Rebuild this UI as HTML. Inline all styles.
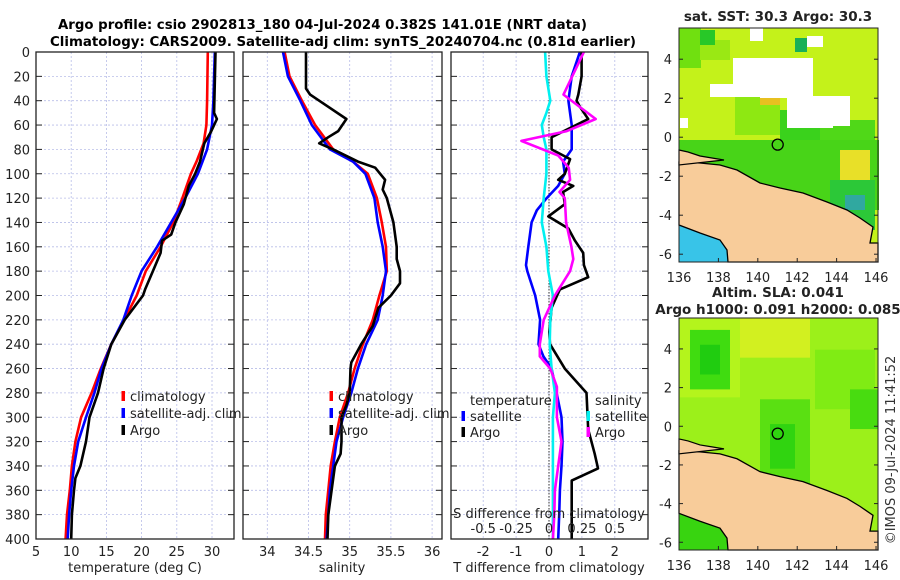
<!DOCTYPE html>
<html><head><meta charset="utf-8">
<style>
html,body{margin:0;padding:0;background:#fff;}
svg{display:block;font-family:"DejaVu Sans","Liberation Sans",sans-serif;}
</style></head>
<body>
<svg id="fig" width="900" height="580" viewBox="0 0 900 580" xmlns="http://www.w3.org/2000/svg">
  <rect width="900" height="580" fill="#fff"/>
  <text x="58" y="29" font-size="13.5" font-weight="bold" textLength="529" lengthAdjust="spacingAndGlyphs">Argo profile: csio 2902813_180 04-Jul-2024 0.382S 141.01E (NRT data)</text>
  <text x="50" y="46" font-size="13.5" font-weight="bold" textLength="586" lengthAdjust="spacingAndGlyphs">Climatology: CARS2009. Satellite-adj clim: synTS_20240704.nc (0.81d earlier)</text>
  <g id="panels"></g>
  <g id="maps"></g>
  <text transform="translate(895,450) rotate(-90)" text-anchor="middle" font-size="13" fill="#333">©IMOS 09-Jul-2024 11:41:52</text>
</svg>
<script>
// ---------- data ----------
const depthTicks = [0,20,40,60,80,100,120,140,160,180,200,220,240,260,280,300,320,340,360,380,400];
const tempTicks = [5,10,15,20,25,30];
const salTicks = [34,34.5,35,35.5,36];
const tdiffTicks = [-2,-1,0,1,2];
const sdiffTicks = [-0.5,-0.25,0,0.25,0.5];
const sdiffTickLabels = ["-0.5","-0.25","0","0.25","0.5"];

const climTDepth = [0,40,60,75,90,100,120,140,160,180,200,220,240,260,280,300,320,340,360,380,400];
const climT = [29.4,29.3,29.2,28.8,27.8,27.0,25.8,24.5,22.7,20.6,19.3,17.5,15.7,14.2,12.9,11.4,10.6,10.1,9.8,9.4,9.2];
const satTDepth = [0,40,60,80,100,120,140,160,180,200,220,240,260,280,300,320,340,360,380,400];
const satT = [30.4,30.2,30.0,29.3,28.0,26.2,24.2,22.2,20.0,18.6,17.4,15.7,14.3,13.3,12.1,11.0,10.4,10.0,9.7,9.5];
const argoTDepth = [0,50,55,65,75,90,100,110,125,140,150,155,165,180,195,200,220,240,260,280,300,320,340,350,360,380,400];
const argoT = [30.5,30.3,30.7,29.9,28.9,28.3,27.6,26.7,26.0,24.8,24.2,22.9,22.7,21.6,20.5,20.2,17.6,15.7,14.6,13.8,12.6,12.1,11.3,10.6,10.4,10.1,10.0];

const climSDepth = [0,20,40,60,80,90,100,120,140,160,180,200,220,240,260,280,300,320,340,360,380,400];
const climS = [34.21,34.27,34.42,34.58,34.80,35.04,35.22,35.33,35.39,35.44,35.45,35.36,35.28,35.16,35.06,34.98,34.88,34.82,34.77,34.74,34.71,34.70];
const satSDepth = [0,20,40,60,80,90,100,120,140,160,180,200,220,240,260,280,300,320,340,360,380,400];
const satS = [34.19,34.25,34.40,34.54,34.76,35.04,35.19,35.30,35.34,35.40,35.44,35.40,35.34,35.20,35.10,35.02,34.92,34.84,34.80,34.76,34.74,34.72];
const argoSDepth = [0,30,35,45,55,65,70,75,80,90,95,105,113,120,140,160,170,180,190,200,210,225,240,255,260,280,290,300,320,330,340,360,380,400];
const argoS = [34.47,34.47,34.52,34.74,34.96,34.86,34.74,34.63,34.80,35.10,35.31,35.43,35.40,35.45,35.53,35.57,35.57,35.61,35.61,35.50,35.35,35.28,35.14,35.02,35.01,35.00,34.96,34.90,34.90,34.89,34.82,34.78,34.74,34.73];

const satTdDepth = [0,20,40,60,80,90,100,110,120,130,140,160,175,180,200,220,240,250,260,280,300,320,340,360,380,400];
const satTd = [0.94,0.69,0.59,0.69,0.69,0.43,0.48,0.28,-0.07,-0.37,-0.53,-0.63,-0.70,-0.66,-0.42,-0.27,-0.32,-0.17,0.08,0.23,0.38,0.41,0.38,0.33,0.31,0.28];
const argoTdDepth = [0,20,35,40,45,55,70,80,88,100,105,110,115,125,135,145,155,165,175,185,195,210,230,240,260,280,310,330,342,352,380,400];
const argoTd = [0.99,0.99,0.89,0.84,0.94,1.19,0.08,0.08,0.64,0.48,0.28,0.74,0.43,0.48,-0.02,0.59,0.79,1.04,1.06,1.19,0.33,0.08,0.01,0.03,0.48,1.14,1.19,1.39,1.49,0.69,0.69,0.69];
const satSdDepth = [0,20,40,50,60,70,80,100,120,140,160,180,200,220,240,260,280,300,320,340,360,380,400];
const satSd = [-0.03,-0.02,0.01,-0.02,-0.055,-0.04,-0.02,-0.02,-0.04,-0.055,-0.02,-0.005,0.03,0.01,0.005,0.02,0.045,0.03,0.03,0.03,0.03,0.03,0.03];
const argoSdDepth = [0,35,55,65,73,85,95,105,115,120,140,160,170,180,200,220,240,250,260,275,300,320,340,360,380,400];
const argoSd = [0.265,0.11,0.355,0.135,-0.21,0.07,0.15,0.16,0.08,0.12,0.13,0.17,0.185,0.16,0.045,-0.04,-0.07,-0.07,0.01,0.06,0.06,0.095,0.07,0.045,0.04,0.03];

const mapLonTicks = [136,138,140,142,144,146];
const mapLatTicks = [4,2,0,-2,-4,-6];
const argoLon = 141.01, argoLat = -0.382;

// ---------- helpers ----------
const NS = "http://www.w3.org/2000/svg";
function mk(tag, attrs, parent){ const e=document.createElementNS(NS,tag); for(const k in attrs) e.setAttribute(k,attrs[k]); parent.appendChild(e); return e; }
const TOP=52, BOT=539;
function yD(d){ return TOP + d*(BOT-TOP)/400; }
const P1={x0:36,x1:234,f:v=>36+(v-5)*7.04};
const P2={x0:243,x1:442,f:v=>267.3+(v-34)*82.4};
const P3={x0:451,x1:648,f:v=>549+v*32.9};
function sdX(v){ return 549+v*4*32.9; }
const panels=document.getElementById('panels');

function frame(P, ticks, name){
  const g=mk('g',{},panels);
  
  
  ticks.forEach(t=>{ const x=P.f(t); mk('line',{x1:x,x2:x,y1:TOP,y2:BOT,stroke:'#b8bde8','stroke-width':0.8,'stroke-dasharray':'2,2'},g); });
  depthTicks.forEach(d=>{ const y=yD(d); mk('line',{x1:P.x0,x2:P.x1,y1:y,y2:y,stroke:'#b8bde8','stroke-width':0.8,'stroke-dasharray':'2,2'},g);
    mk('line',{x1:P.x0,x2:P.x0+6,y1:y,y2:y,stroke:'#222','stroke-width':1},g);
    mk('line',{x1:P.x1-6,x2:P.x1,y1:y,y2:y,stroke:'#222','stroke-width':1},g); });
  return g;
}
function series(fx, xs, ds, color, name, w){
  const pts=xs.map((v,i)=>fx(v).toFixed(1)+','+yD(ds[i]).toFixed(1)).join(' ');
  const p=mk('polyline',{points:pts,fill:'none',stroke:color,'stroke-width':w||2.6,'stroke-linejoin':'round'},panels);
  
  
}
function box(P,name){ const r=mk('rect',{x:P.x0,y:TOP,width:P.x1-P.x0,height:BOT-TOP,fill:'none',stroke:'#222','stroke-width':1.3},panels);
  
   }
function txt(x,y,s,attrs,name,parent){ const t=mk('text',Object.assign({x:x,y:y,'font-size':13,fill:'#222'},attrs||{}),parent||panels); t.textContent=s;
  
   return t; }
function legMark(x,y,color,name){ const r=mk('rect',{x:x-1.5,y:y-10,width:3.5,height:10,fill:color},panels);
  
   }

// ---------- panel 1: temperature ----------
frame(P1,tempTicks,'temperature-grid');
depthTicks.forEach(d=>txt(30,yD(d)+5,String(d),{'text-anchor':'end'},'depth-tick-label'));
tempTicks.forEach(t=>txt(P1.f(t),556,String(t),{'text-anchor':'middle'},'temp-tick-label'));
txt(135,572,'temperature (deg C)',{'text-anchor':'middle'},'temperature-axis-title');
series(P1.f,climT,climTDepth,'#ff0000','temp-climatology-line');
series(P1.f,satT,satTDepth,'#0000ff','temp-satellite-line');
series(P1.f,argoT,argoTDepth,'#000000','temp-argo-line');
box(P1,'temperature-axes');
legMark(123,401,'#ff0000','legend-climatology-mark'); txt(130,401,'climatology',{},'legend-climatology');
legMark(123,418,'#0000ff','legend-satellite-mark'); txt(130,418,'satellite-adj. clim',{},'legend-satellite');
legMark(123,435,'#000','legend-argo-mark'); txt(130,435,'Argo',{},'legend-argo');

// ---------- panel 2: salinity ----------
frame(P2,salTicks,'salinity-grid');
salTicks.forEach(t=>txt(P2.f(t),556,String(t),{'text-anchor':'middle'},'sal-tick-label'));
txt(342,572,'salinity',{'text-anchor':'middle'},'salinity-axis-title');
series(P2.f,climS,climSDepth,'#ff0000','sal-climatology-line');
series(P2.f,satS,satSDepth,'#0000ff','sal-satellite-line');
series(P2.f,argoS,argoSDepth,'#000000','sal-argo-line');
box(P2,'salinity-axes');
legMark(331,401,'#ff0000','legend2-climatology-mark'); txt(338,401,'climatology',{},'legend2-climatology');
legMark(331,418,'#0000ff','legend2-satellite-mark'); txt(338,418,'satellite-adj. clim',{},'legend2-satellite');
legMark(331,435,'#000','legend2-argo-mark'); txt(338,435,'Argo',{},'legend2-argo');

// ---------- panel 3: differences ----------
frame(P3,tdiffTicks,'difference-grid');
mk('line',{x1:549,x2:549,y1:TOP,y2:BOT,stroke:'#333','stroke-width':1,'stroke-dasharray':'1.5,1.5'},panels);
tdiffTicks.forEach(t=>txt(P3.f(t),556,String(t),{'text-anchor':'middle'},'tdiff-tick-label'));
txt(549,572,'T difference from climatology',{'text-anchor':'middle'},'tdiff-axis-title');
series(P3.f,satTd,satTdDepth,'#0000ff','tdiff-satellite-line');
series(P3.f,argoTd,argoTdDepth,'#000000','tdiff-argo-line');
series(sdX,satSd,satSdDepth,'#00f0f0','sdiff-satellite-line');
series(sdX,argoSd,argoSdDepth,'#ff00ff','sdiff-argo-line');
box(P3,'difference-axes');
txt(549,518,'S difference from climatology',{'text-anchor':'middle'},'sdiff-axis-title');
sdiffTicks.forEach((t,i)=>txt(sdX(t),533,sdiffTickLabels[i],{'text-anchor':'middle'},'sdiff-tick-label'));
txt(470,405,'temperature',{},'legend3-temperature-header');
txt(595,405,'salinity',{},'legend3-salinity-header');
legMark(463,421,'#0000ff','legend3-tsat-mark'); txt(470,421,'satellite',{},'legend3-tsat');
legMark(463,437,'#000','legend3-targo-mark'); txt(470,437,'Argo',{},'legend3-targo');
legMark(588,421,'#00f0f0','legend3-ssat-mark'); txt(595,421,'satellite',{},'legend3-ssat');
legMark(588,437,'#ff00ff','legend3-sargo-mark'); txt(595,437,'Argo',{},'legend3-sargo');

// ---------- maps ----------
const maps=document.getElementById('maps');
function drawMap(y0,y1,kind,titles){
  const x0=679,x1=878;
  const lonX=l=>x0+(l-136)*(x1-x0)/10.1;
  const latY=l=>y0+(5.6-l)*(y1-y0)/12;
  const g=mk('g',{},maps);
  
  
  const sy=v=>y0+(v-28)*(y1-y0)/234;
  if(kind==='sst'){
    mk('rect',{x:x0,y:y0,width:x1-x0,height:y1-y0,fill:'#c4f21a'},g);
    [[679,28,22,40,'#70e010'],[700,40,30,20,'#9ae814'],[735,95,45,40,'#8ee812'],[780,110,40,50,'#3ad21c'],[820,120,55,60,'#50d818'],[679,140,200,70,'#48d418'],[830,180,45,50,'#2cc838'],[845,195,20,15,'#30a8a0'],[700,30,15,15,'#28c828'],[795,38,12,14,'#18b058'],[840,150,30,30,'#e8e028'],[760,95,20,10,'#e8c020']].forEach(r=>mk('rect',{x:r[0],y:sy(r[1]),width:r[2],height:(r[3])*(y1-y0)/234,fill:r[4]},g));
    [[750,26,13,15],[710,84,50,13],[733,58,47,26],[760,58,53,40],[787,97,46,31],[810,96,40,30],[807,36,16,11],[680,118,8,10]].forEach(r=>mk('rect',{x:r[0],y:sy(r[1]),width:r[2],height:r[3]*(y1-y0)/234,fill:'#fff'},g));
    mk('polygon',{points:[[679,225],[700,233],[720,240],[727,250],[728,262],[679,262]].map(p=>p[0]+','+sy(p[1])).join(' '),fill:'#38c4e8'},g);
  } else {
    mk('rect',{x:x0,y:y0,width:x1-x0,height:y1-y0,fill:'#9cf01a'},g);
    [[680,28,60,80,'#b4f41c'],[740,28,70,40,'#d2f020'],[690,40,40,60,'#40dc10'],[700,55,20,30,'#20cc10'],[760,110,50,100,'#5ae012'],[770,135,25,45,'#30d410'],[815,60,60,60,'#80ec14'],[850,100,28,40,'#48dc10'],[679,225,50,37,'#38d410']].forEach(r=>mk('rect',{x:r[0],y:sy(r[1]),width:r[2],height:r[3]*(y1-y0)/234,fill:r[4]},g));
  }
  const coast=[[679,162],[700,163],[720,165],[737,170],[760,183],[780,188],[803,193],[827,202],[847,210],[860,218],[873,227],[870,243],[878,243]];
  const south=[[728,262],[727,250],[720,240],[700,233],[679,225]];
  mk('polygon',{points:coast.concat([[878,262]]).concat(south).map(p=>p[0]+','+sy(p[1])).join(' '),fill:'#f8cc9a',stroke:'#000','stroke-width':1.3},g);
  mk('polygon',{points:[[679,150],[688,152],[700,156],[712,158],[724,160],[679,165]].map(p=>p[0]+','+sy(p[1])).join(' '),fill:'#f8cc9a',stroke:'#000','stroke-width':1.2},g);
  const c=mk('circle',{cx:lonX(argoLon),cy:latY(argoLat),r:5.5,fill:'none',stroke:'#000','stroke-width':1.3},g);
  
  
  mk('rect',{x:x0,y:y0,width:x1-x0,height:y1-y0,fill:'none',stroke:'#222','stroke-width':1},g);
  mapLatTicks.forEach(l=>{ const y=latY(l); mk('line',{x1:x0,x2:x0+4,y1:y,y2:y,stroke:'#222'},g); mk('line',{x1:x1-4,x2:x1,y1:y,y2:y,stroke:'#222'},g); txt(672,y+5,String(l),{'text-anchor':'end'},kind+'-lat-label',g); });
  mapLonTicks.forEach(l=>{ const x=lonX(l); mk('line',{x1:x,x2:x,y1:y1-4,y2:y1,stroke:'#222'},g); txt(x,y1+20,String(l),{'text-anchor':'middle'},kind+'-lon-label',g); });
  titles.forEach(t=>txt(t[0],t[1],t[2],{'text-anchor':'middle','font-weight':'bold','font-size':13.5},kind+'-map-title',g));
}
drawMap(28,262,'sst',[[778,21,'sat. SST: 30.3 Argo: 30.3']]);
drawMap(318,550,'sla',[[778,297,'Altim. SLA: 0.041'],[778,314,'Argo h1000: 0.091 h2000: 0.085']]);
</script>
</body></html>
